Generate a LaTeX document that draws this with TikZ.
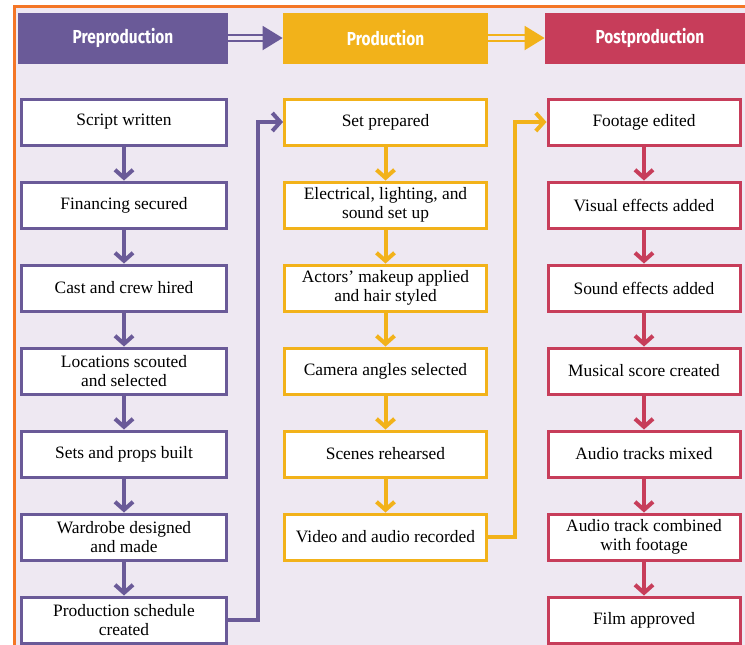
\documentclass[tikz,border=0pt]{standalone}
\usepackage{fontspec}
\setmainfont{Liberation Serif}
\newfontfamily\headfont[FakeStretch=0.82]{Fira Sans}
\usepackage{tikz}
\usetikzlibrary{arrows.meta}
\definecolor{prepurple}{RGB}{106,90,152}
\definecolor{proyellow}{RGB}{242,178,26}
\definecolor{postred}{RGB}{199,61,90}
\definecolor{frameorange}{RGB}{244,118,38}
\definecolor{lavender}{RGB}{238,232,242}
\tikzset{
    stage/.style={minimum height=25.5pt, inner sep=0pt, text=white,
        font=\headfont\bfseries\fontsize{9.4}{10}\selectfont},
    task/.style={draw, fill=white, line width=1.5pt, minimum height=23pt,
        inner sep=1pt, align=center, font=\fontsize{8.7}{9.6}\selectfont},
    prebox/.style={task, draw=prepurple, minimum width=102.5pt},
    probox/.style={task, draw=proyellow, minimum width=101pt},
    postbox/.style={task, draw=postred, minimum width=96pt},
    flow/.style={line width=2pt, -{Straight Barb[length=4pt,width=9pt]}},
    handoff/.style={double=lavender, line width=1pt, double distance=1.6pt,
        -{Triangle[length=10pt,width=12pt]}}
}

\begin{document}
\begin{tikzpicture}[x=0.5pt, y=-0.5pt]

    \useasboundingbox (0,0) rectangle (745,644);
    \fill[white] (0,0) rectangle (745,644);
    \fill[lavender] (14,6) rectangle (760,660);
    \draw[frameorange, line width=1.5pt] (14,660) -- (14,6) -- (760,6);

    % stage headers
    \node[stage, fill=prepurple, minimum width=105pt] (H1) at (123,38) {Preproduction};
    \node[stage, fill=proyellow, minimum width=102.5pt] (H2) at (385.5,38) {Production};
    \node[stage, fill=postred, minimum width=105pt] (H3) at (650,38) {Postproduction};

    \draw[handoff, prepurple] (H1) -- (H2);
    \draw[handoff, proyellow] (H2) -- (H3);

    % preproduction
    \node[prebox] (P1) at (124,122) {Script written};
    \node[prebox] (P2) at (124,205) {Financing secured};
    \node[prebox] (P3) at (124,288) {Cast and crew hired};
    \node[prebox] (P4) at (124,371) {Locations scouted\\and selected};
    \node[prebox] (P5) at (124,454) {Sets and props built};
    \node[prebox] (P6) at (124,537) {Wardrobe designed\\and made};
    \node[prebox] (P7) at (124,620) {Production schedule\\created};

    \draw[flow, prepurple] (P1) -- (P2);
    \draw[flow, prepurple] (P2) -- (P3);
    \draw[flow, prepurple] (P3) -- (P4);
    \draw[flow, prepurple] (P4) -- (P5);
    \draw[flow, prepurple] (P5) -- (P6);
    \draw[flow, prepurple] (P6) -- (P7);

    % production
    \node[probox] (R1) at (385.5,122) {Set prepared};
    \node[probox] (R2) at (385.5,205) {Electrical, lighting, and\\sound set up};
    \node[probox] (R3) at (385.5,288) {Actors' makeup applied\\and hair styled};
    \node[probox] (R4) at (385.5,371) {Camera angles selected};
    \node[probox] (R5) at (385.5,454) {Scenes rehearsed};
    \node[probox] (R6) at (385.5,537) {Video and audio recorded};

    \draw[flow, proyellow] (R1) -- (R2);
    \draw[flow, proyellow] (R2) -- (R3);
    \draw[flow, proyellow] (R3) -- (R4);
    \draw[flow, proyellow] (R4) -- (R5);
    \draw[flow, proyellow] (R5) -- (R6);

    % postproduction
    \node[postbox] (F1) at (644,122) {Footage edited};
    \node[postbox] (F2) at (644,205) {Visual effects added};
    \node[postbox] (F3) at (644,288) {Sound effects added};
    \node[postbox] (F4) at (644,371) {Musical score created};
    \node[postbox] (F5) at (644,454) {Audio tracks mixed};
    \node[postbox] (F6) at (644,537) {Audio track combined\\with footage};
    \node[postbox] (F7) at (644,620) {Film approved};

    \draw[flow, postred] (F1) -- (F2);
    \draw[flow, postred] (F2) -- (F3);
    \draw[flow, postred] (F3) -- (F4);
    \draw[flow, postred] (F4) -- (F5);
    \draw[flow, postred] (F5) -- (F6);
    \draw[flow, postred] (F6) -- (F7);

    % hand-over between columns
    \coordinate (L1) at (258,620);
    \coordinate (L2) at (515,537);
    \draw[flow, prepurple] (P7.east) -- (L1) |- (R1.west);
    \draw[flow, proyellow] (R6.east) -- (L2) |- (F1.west);

\end{tikzpicture}
\end{document}
